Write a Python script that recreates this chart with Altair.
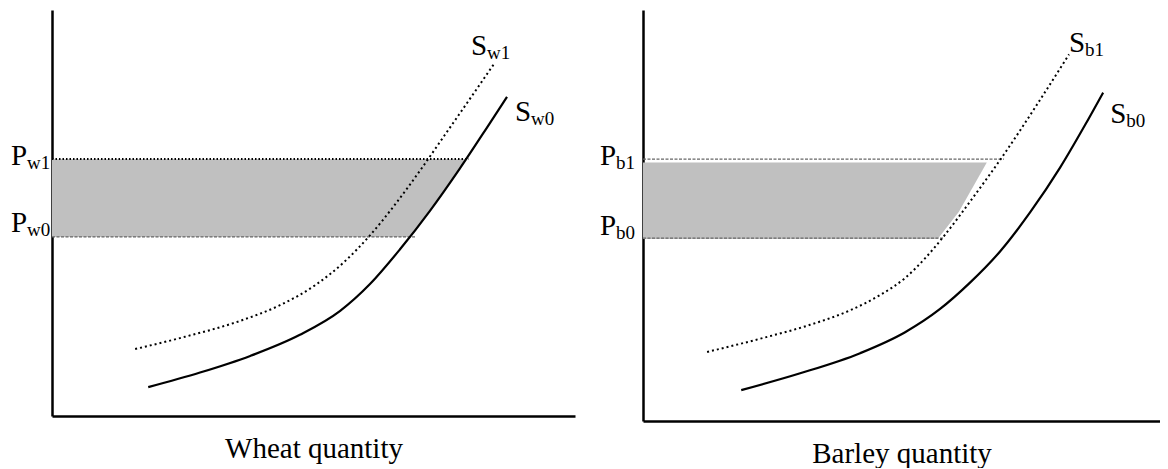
import altair as alt
import pandas as pd

FONT = "Liberation Serif"

# ---------------- Wheat panel (quantity 0-100, price 0-100) ----------------
sw0_q = [18.4, 28.3, 37.9, 47.4, 55.1, 60.8, 66.5, 72.3, 78.0, 83.7, 87.0]
sw0_p = [7.1, 10.7, 14.8, 20.0, 25.9, 32.5, 41.0, 50.6, 61.0, 72.1, 78.6]
sw1_q = [15.9, 25.4, 35.9, 43.6, 50.3, 56.0, 60.8, 65.6, 70.4, 75.1, 79.9, 84.5]
sw1_p = [16.5, 19.5, 23.4, 27.3, 32.2, 38.1, 44.5, 52.1, 60.5, 69.2, 78.1, 86.7]
wheat_prices = [44.1, 63.3]          # Pw0, Pw1
wheat_price_end = [69.6, 79.7]       # where the price lines stop
wheat_shade_q = [68.4, 72.3, 78.0, 79.2]
wheat_shade_p = [44.1, 50.6, 61.0, 63.3]

# ---------------- Barley panel ----------------
sb0_q = [19.0, 30.4, 42.0, 50.7, 57.4, 63.2, 69.1, 74.9, 80.7, 85.5, 89.0]
sb0_p = [7.5, 11.6, 16.5, 21.6, 27.2, 33.6, 41.3, 50.8, 61.7, 72.0, 79.9]
sb1_q = [12.4, 22.6, 32.3, 40.0, 45.8, 50.7, 54.5, 58.4, 64.2, 70.0, 75.8, 82.4]
sb1_p = [16.8, 20.0, 23.4, 26.9, 30.6, 34.8, 39.5, 45.3, 55.0, 65.2, 76.2, 89.2]
barley_prices = [44.5, 63.7]         # Pb0, Pb1
barley_price_end = [58.2, 69.8]
barley_shade_q = [57.0, 61.1, 66.5]
barley_shade_p = [44.3, 50.9, 62.9]


def make_panel(title, width, height, s0_q, s0_p, s1_q, s1_p, prices, price_end,
               shade_q, shade_p, price_styles, labels):
    def X(field):
        return alt.X(field, type="quantitative",
                     scale=alt.Scale(domain=[0, 100], nice=False, zero=False),
                     axis=alt.Axis(title=title, labels=False, ticks=False, grid=False,
                                   domainColor="black", domainWidth=2.5,
                                   titleFont=FONT, titleFontSize=29,
                                   titleFontWeight="normal", titleColor="black",
                                   titlePadding=18))

    def Y(field):
        return alt.Y(field, type="quantitative",
                     scale=alt.Scale(domain=[0, 100], nice=False, zero=False),
                     axis=alt.Axis(title=None, labels=False, ticks=False, grid=False,
                                   domainColor="black", domainWidth=2.5))

    layers = []
    shade_df = pd.DataFrame({"q": shade_q, "p": shade_p, "q0": [0] * len(shade_q)})
    layers.append(alt.Chart(shade_df).mark_area(orient="horizontal", color="#c0c0c0")
                  .encode(x=X("q"), x2="q0", y=Y("p")))

    for p, e, style in zip(prices, price_end, price_styles):
        df = pd.DataFrame({"q0": [0], "q": [e], "p": [p]})
        layers.append(alt.Chart(df).mark_rule(**style)
                      .encode(x=X("q0"), x2="q", y=Y("p")))

    df1 = pd.DataFrame({"q": s1_q, "p": s1_p})
    layers.append(alt.Chart(df1).mark_line(interpolate="monotone", color="black",
                                           strokeWidth=2, strokeDash=[2, 3])
                  .encode(x=X("q"), y=Y("p")))
    df0 = pd.DataFrame({"q": s0_q, "p": s0_p})
    layers.append(alt.Chart(df0).mark_line(interpolate="monotone", color="black",
                                           strokeWidth=2.2)
                  .encode(x=X("q"), y=Y("p")))

    for q, p, main, sub, dx, dy in labels:
        df = pd.DataFrame({"q": [q], "p": [p], "main": [main], "sub": [sub]})
        base = alt.Chart(df)
        layers.append(base.mark_text(align="left", baseline="alphabetic", font=FONT,
                                     fontSize=29, color="black", dx=dx, dy=dy)
                      .encode(x=X("q"), y=Y("p"), text="main:N"))
        layers.append(base.mark_text(align="left", baseline="alphabetic", font=FONT,
                                     fontSize=19, color="black", dx=dx + 16, dy=dy + 4)
                      .encode(x=X("q"), y=Y("p"), text="sub:N"))

    return alt.layer(*layers).properties(width=width, height=height)


dotted_black = dict(color="black", strokeWidth=2, strokeDash=[1.5, 2])
dashed_gray = dict(color="#666666", strokeWidth=1.2, strokeDash=[3, 1.5])

wheat = make_panel(
    "Wheat quantity", 523, 406, sw0_q, sw0_p, sw1_q, sw1_p,
    wheat_prices, wheat_price_end, wheat_shade_q, wheat_shade_p,
    [dashed_gray, dotted_black],
    [
        (0, wheat_prices[1], "P", "w1", -41, 6),
        (0, wheat_prices[0], "P", "w0", -41, -5),
        (sw1_q[-1], sw1_p[-1], "S", "w1", -23, -9),
        (sw0_q[-1], sw0_p[-1], "S", "w0", 8, 24),
    ],
)

barley = make_panel(
    "Barley quantity", 517, 411, sb0_q, sb0_p, sb1_q, sb1_p,
    barley_prices, barley_price_end, barley_shade_q, barley_shade_p,
    [dashed_gray, dashed_gray],
    [
        (0, barley_prices[1], "P", "b1", -43, 6),
        (0, barley_prices[0], "P", "b0", -43, -3),
        (sb1_q[-1], sb1_p[-1], "S", "b1", 0, -2),
        (sb0_q[-1], sb0_p[-1], "S", "b0", 7, 30),
    ],
)

chart = (
    alt.hconcat(wheat, barley, spacing=68, bounds="flush")
    .properties(padding={"left": 3, "top": 2, "right": 0, "bottom": 0})
    .configure_view(strokeWidth=0)
)

chart.save("out.html", embed_options={"renderer": "svg", "actions": False})
